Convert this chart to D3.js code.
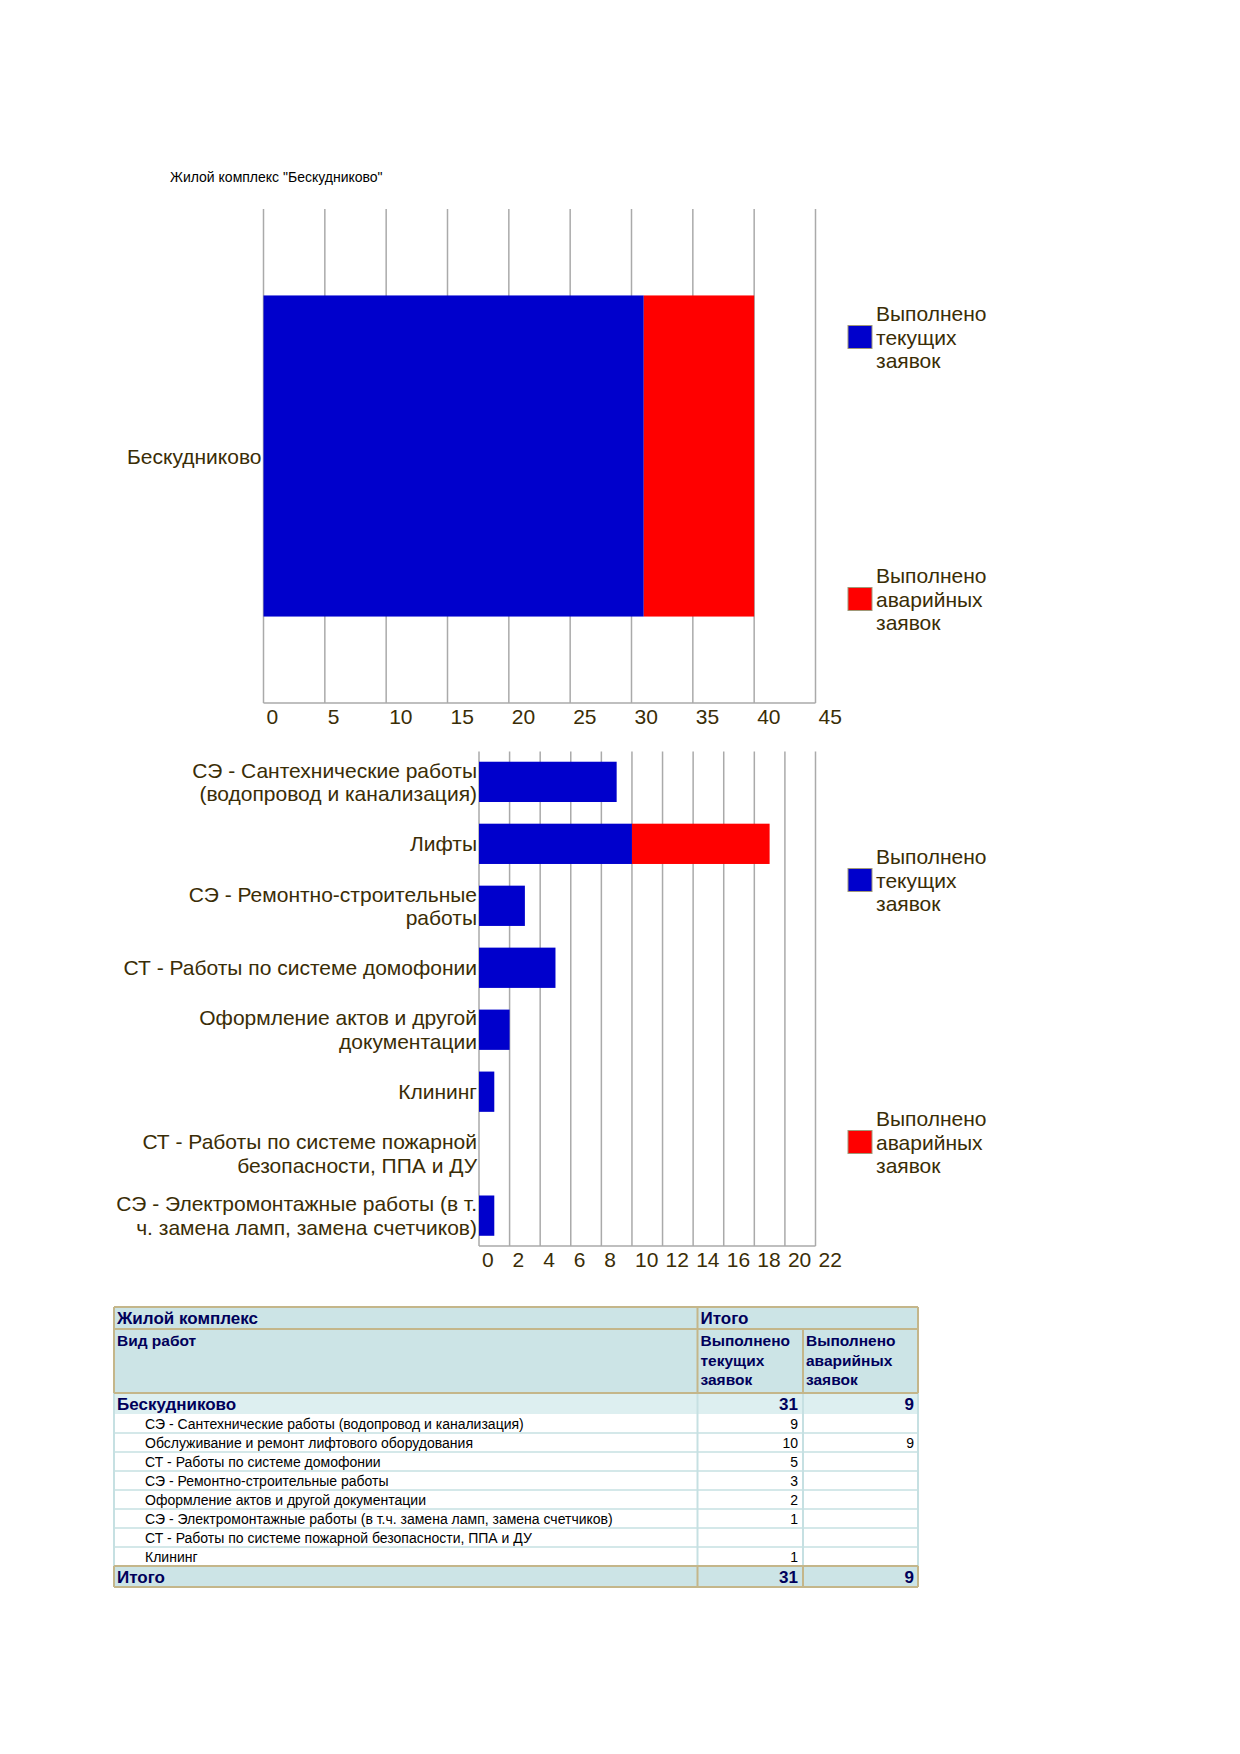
<!DOCTYPE html>
<html>
<head>
<meta charset="utf-8">
<script src="https://cdn.jsdelivr.net/npm/d3@7"></script>
<style>
  body { margin: 0; background: #fff; }
  svg { display: block; }
</style>
</head>
<body>
<div id="page"></div>
<script>
// ---- data ----
const complexName = "Бескудниково";
const seriesNames = ["Выполнено\nтекущих\nзаявок", "Выполнено\nаварийных\nзаявок"];
const topCategories = ["Бескудниково"];
const topCurrent = [31];
const topEmergency = [9];
const topTicks = [0, 5, 10, 15, 20, 25, 30, 35, 40, 45];

const workLabels = [
    "СЭ - Сантехнические работы\n(водопровод и канализация)",
    "Лифты",
    "СЭ - Ремонтно-строительные\nработы",
    "СТ - Работы по системе домофонии",
    "Оформление актов и другой\nдокументации",
    "Клининг",
    "СТ - Работы по системе пожарной\nбезопасности, ППА и ДУ",
    "СЭ - Электромонтажные работы (в т.\nч. замена ламп, замена счетчиков)"
];
const workCurrent = [9, 10, 3, 5, 2, 1, 0, 1];
const workEmergency = [0, 9, 0, 0, 0, 0, 0, 0];
const workTicks = [0, 2, 4, 6, 8, 10, 12, 14, 16, 18, 20, 22];

const tableWorks = [
    "СЭ - Сантехнические работы (водопровод и канализация)",
    "Обслуживание и ремонт лифтового оборудования",
    "СТ - Работы по системе домофонии",
    "СЭ - Ремонтно-строительные работы",
    "Оформление актов и другой документации",
    "СЭ - Электромонтажные работы (в т.ч. замена ламп, замена счетчиков)",
    "СТ - Работы по системе пожарной безопасности, ППА и ДУ",
    "Клининг"
];
const tableCurrent = [9, 10, 5, 3, 2, 1, null, 1];
const tableEmergency = [null, 9, null, null, null, null, null, null];

// ---- setup ----
const W = 1240, H = 1754;
const font = "'Liberation Sans', Arial, sans-serif";
const textColor = "#3a2d06";
const colors = ["#0000cc", "#ff0000"];
const gridColor = "#aaaaaa";

const svg = d3.select("#page").append("svg")
    .attr("width", W).attr("height", H)
    .style("font-family", font);

svg.append("text")
    .attr("x", 170).attr("y", 182)
    .style("font-size", "14px")
    .style("fill", "#000")
    .text('Жилой комплекс "' + complexName + '"');

function drawChart(opt) {
    let x = d3.scaleLinear()
        .domain([0, opt.ticks[opt.ticks.length - 1]])
        .range([opt.left, opt.right]);

    let y = d3.scaleBand()
        .domain(d3.range(opt.labels.length))
        .range([opt.top, opt.bottom])
        .paddingInner(0.35)
        .paddingOuter(opt.outer);

    let g = svg.append("g");

    // grid lines
    g.append("g")
        .selectAll("line")
        .data(opt.ticks)
        .join("line")
        .attr("x1", d => x(d)).attr("x2", d => x(d))
        .attr("y1", opt.top).attr("y2", opt.bottom)
        .attr("stroke", gridColor)
        .attr("stroke-width", 1.5);

    g.append("line")
        .attr("x1", opt.left).attr("x2", opt.right)
        .attr("y1", opt.bottom).attr("y2", opt.bottom)
        .attr("stroke", gridColor)
        .attr("stroke-width", 1.5);

    // stacked bars
    let stacked = opt.labels.map((l, i) => ({ i: i, a: opt.current[i], b: opt.emergency[i] }));

    g.append("g")
        .attr("fill", colors[0])
        .selectAll("rect")
        .data(stacked.filter(d => d.a > 0))
        .join("rect")
        .attr("x", x(0))
        .attr("y", d => y(d.i))
        .attr("width", d => x(d.a) - x(0))
        .attr("height", y.bandwidth());

    g.append("g")
        .attr("fill", colors[1])
        .selectAll("rect")
        .data(stacked.filter(d => d.b > 0))
        .join("rect")
        .attr("x", d => x(d.a))
        .attr("y", d => y(d.i))
        .attr("width", d => x(d.a + d.b) - x(d.a))
        .attr("height", y.bandwidth());

    // tick labels
    g.append("g")
        .selectAll("text")
        .data(opt.ticks)
        .join("text")
        .attr("x", d => x(d) + 3)
        .attr("y", opt.bottom + opt.tickGap)
        .style("font-size", "21px")
        .style("fill", textColor)
        .text(d => d);

    // category labels
    let lineH = 23.5;
    g.append("g")
        .selectAll("text")
        .data(opt.labels)
        .join("text")
        .attr("text-anchor", "end")
        .style("font-size", "21px")
        .style("fill", textColor)
        .each(function (d, i) {
            let lines = d.split("\n");
            let cy = y(i) + y.bandwidth() / 2 - (lines.length - 1) * lineH / 2;
            d3.select(this).selectAll("tspan")
                .data(lines)
                .join("tspan")
                .attr("x", opt.left - 2)
                .attr("y", (l, j) => cy + j * lineH + 7.5)
                .text(l => l);
        });

    // legend
    opt.legendY.forEach((ly, k) => {
        let lg = g.append("g");
        lg.append("rect")
            .attr("x", 848).attr("y", ly - 11.5)
            .attr("width", 24).attr("height", 23)
            .attr("fill", colors[k])
            .attr("stroke", "#a09878")
            .attr("stroke-width", 1);
        let lines = seriesNames[k].split("\n");
        lg.append("text")
            .style("font-size", "21px")
            .style("fill", textColor)
            .selectAll("tspan")
            .data(lines)
            .join("tspan")
            .attr("x", 876)
            .attr("y", (l, j) => ly + (j - 1) * 23.3 + 7.5)
            .text(l => l);
    });
}

drawChart({
    labels: topCategories, current: topCurrent, emergency: topEmergency, ticks: topTicks,
    left: 263.5, right: 815.5, top: 209, bottom: 703, tickGap: 20.5, outer: 0.155,
    legendY: [337, 599]
});

drawChart({
    labels: workLabels, current: workCurrent, emergency: workEmergency, ticks: workTicks,
    left: 479, right: 815.5, top: 751.5, bottom: 1246, tickGap: 20.5, outer: 0.165,
    legendY: [880, 1142]
});

// ---- table ----
const tX = [114, 697.5, 803, 918];
const headBg = "#cce4e6", subBg = "#ddeff0", tan = "#c4b68a", teal = "#c6e0e2", navy = "#00005a";
const tg = svg.append("g");

const tTop = 1307, h1 = 22, h2 = 64, hSub = 21;
const rowTop = tTop + h1 + h2 + hSub, rowH = 19;
const totalTop = rowTop + rowH * tableWorks.length;
const sumCurrent = d3.sum(tableCurrent), sumEmergency = d3.sum(tableEmergency);
const yH1 = tTop + h1, yH2 = yH1 + h2;

// backgrounds
tg.append("rect").attr("x", tX[0]).attr("y", tTop).attr("width", tX[3] - tX[0]).attr("height", h1 + h2).attr("fill", headBg);
tg.append("rect").attr("x", tX[0]).attr("y", yH2).attr("width", tX[3] - tX[0]).attr("height", hSub).attr("fill", subBg);
tg.append("rect").attr("x", tX[0]).attr("y", totalTop).attr("width", tX[3] - tX[0]).attr("height", 21).attr("fill", headBg);

// detail rows
let rows = tg.append("g")
    .selectAll("g")
    .data(tableWorks)
    .join("g")
    .attr("transform", (d, i) => `translate(0,${rowTop + i * rowH})`);

rows.append("line")
    .attr("x1", tX[0]).attr("x2", tX[3]).attr("y1", rowH).attr("y2", rowH)
    .attr("stroke", teal).attr("stroke-width", 1.5);
rows.append("text")
    .attr("x", 145).attr("y", 14.5)
    .style("font-size", "14px").style("fill", "#000")
    .text(d => d);
rows.append("text")
    .attr("x", tX[2] - 5).attr("y", 14.5).attr("text-anchor", "end")
    .style("font-size", "14px").style("fill", "#000")
    .text((d, i) => tableCurrent[i] == null ? "" : tableCurrent[i]);
rows.append("text")
    .attr("x", tX[3] - 4).attr("y", 14.5).attr("text-anchor", "end")
    .style("font-size", "14px").style("fill", "#000")
    .text((d, i) => tableEmergency[i] == null ? "" : tableEmergency[i]);

// vertical lines in detail area
tX.forEach(xx => {
    tg.append("line").attr("x1", xx).attr("x2", xx).attr("y1", yH2).attr("y2", totalTop)
        .attr("stroke", teal).attr("stroke-width", 2);
});

// header borders (tan)
[tTop, yH1, yH2, totalTop, totalTop + 21].forEach(yy => {
    tg.append("line")
        .attr("x1", tX[0]).attr("x2", tX[3])
        .attr("y1", yy).attr("y2", yy)
        .attr("stroke", tan).attr("stroke-width", 2);
});
[[tX[0], tTop, yH2], [tX[3], tTop, yH2], [tX[1], tTop, yH2], [tX[2], yH1, yH2],
 [tX[0], totalTop, totalTop + 21], [tX[3], totalTop, totalTop + 21],
 [tX[1], totalTop, totalTop + 21], [tX[2], totalTop, totalTop + 21]].forEach(v => {
    tg.append("line").attr("x1", v[0]).attr("x2", v[0]).attr("y1", v[1]).attr("y2", v[2])
        .attr("stroke", tan).attr("stroke-width", 2);
});

// header texts
function headText(x, y, txt, size, anchor) {
    tg.append("text")
        .attr("x", x).attr("y", y)
        .attr("text-anchor", anchor || "start")
        .style("font-size", size + "px").style("font-weight", "bold").style("fill", navy)
        .text(txt);
}
headText(117, tTop + 17, "Жилой комплекс", 17);
headText(tX[1] + 3, tTop + 17, "Итого", 17);
headText(117, yH1 + 17, "Вид работ", 15.5);
seriesNames[0].split("\n").forEach((l, j) => headText(tX[1] + 3, yH1 + 17 + j * 19.5, l, 15.5));
seriesNames[1].split("\n").forEach((l, j) => headText(tX[2] + 3, yH1 + 17 + j * 19.5, l, 15.5));
headText(117, yH2 + 17, complexName, 17);
headText(tX[2] - 5, yH2 + 17, sumCurrent, 17, "end");
headText(tX[3] - 4, yH2 + 17, sumEmergency, 17, "end");
headText(117, totalTop + 16.5, "Итого", 17);
headText(tX[2] - 5, totalTop + 16.5, sumCurrent, 17, "end");
headText(tX[3] - 4, totalTop + 16.5, sumEmergency, 17, "end");
</script>
</body>
</html>
